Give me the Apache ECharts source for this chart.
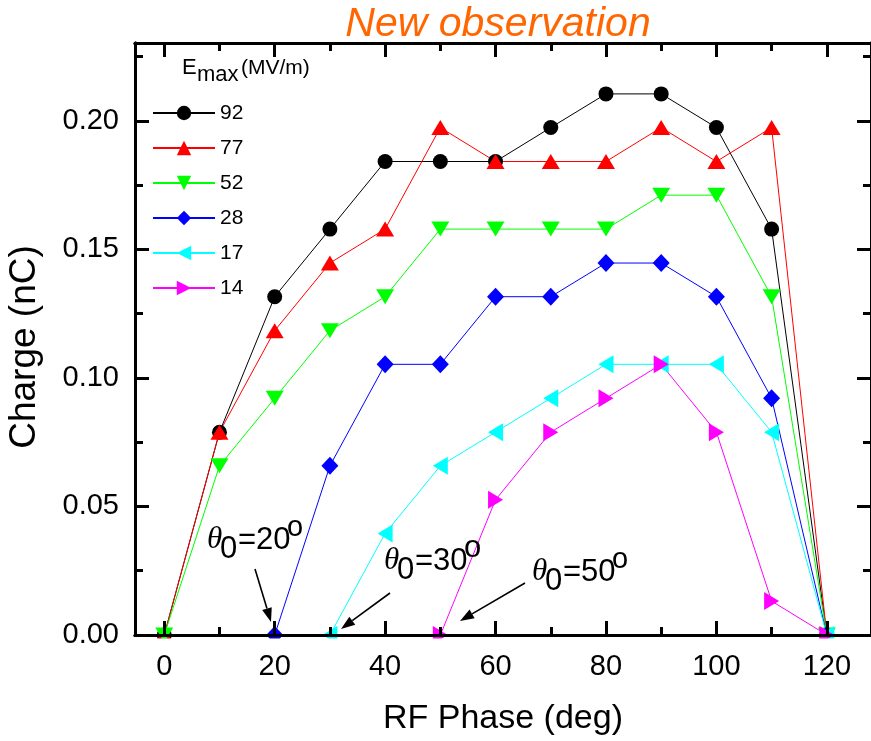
<!DOCTYPE html>
<html><head><meta charset="utf-8">
<script src="https://cdn.jsdelivr.net/npm/echarts@6/dist/echarts.min.js"></script>
<style>html,body{margin:0;padding:0;background:#fff}#c{width:871px;height:741px}</style>
</head><body><div id="c"></div>
<script>
// ---------- data ----------
const phases = [0,10,20,30,40,50,60,70,80,90,100,110,120];
const e92 = [0,0.0789,0.1316,0.1579,0.1842,0.1842,0.1842,0.1974,0.2105,0.2105,0.1974,0.1579,0];
const e77 = [0,0.0789,0.1184,0.1447,0.1579,0.1974,0.1842,0.1842,0.1842,0.1974,0.1842,0.1974,0];
const e52 = [0,0.0658,0.0921,0.1184,0.1316,0.1579,0.1579,0.1579,0.1579,0.1711,0.1711,0.1316,0];
const e28 = [null,null,0,0.0658,0.1053,0.1053,0.1316,0.1316,0.1447,0.1447,0.1316,0.0921,0];
const e17 = [null,null,null,0,0.0395,0.0658,0.0789,0.0921,0.1053,0.1053,0.1053,0.0789,0];
const e14 = [null,null,null,null,null,0,0.0526,0.0789,0.0921,0.1053,0.0789,0.0132,0];
const seriesNames = ['92','77','52','28','17','14'];
const xMajorTicks = [0,20,40,60,80,100,120];
const xMinorTicks = [10,30,50,70,90,110];
const yMajorTicks = [0,0.05,0.10,0.15,0.20];
const yMinorTicks = [0.025,0.075,0.125,0.175,0.225];
const titleText = 'New observation';
const xName = 'RF Phase (deg)';
const yName = 'Charge (nC)';
const legendTitle = ['E','max','(MV/m)'];
const annotations = [['20'],['30'],['50']];

// ---------- styling ----------
const FONT = '"Liberation Sans", Arial, sans-serif';
const SERIF = '"Liberation Serif", "DejaVu Serif", serif';
const allValues = [e92,e77,e52,e28,e17,e14];
const looks = [
  {color:'#000000', symbol:'circle',   size:15,      rotate:0},
  {color:'#ff0000', symbol:'triangle', size:[18,15], rotate:0},
  {color:'#00ff00', symbol:'triangle', size:[18,15], rotate:180},
  {color:'#0000ff', symbol:'diamond',  size:[17,18], rotate:0},
  {color:'#00ffff', symbol:'triangle', size:[18,15], rotate:90},
  {color:'#ff00ff', symbol:'triangle', size:[18,15], rotate:-90}
];
const X_MIN = -5.3, X_MAX = 128, Y_MIN = 0, Y_MAX = 0.2303;

function xAx(pos, ticks, len, labels){
  return {type:'value', min:X_MIN, max:X_MAX, position:pos, z:5,
    axisLine:{show:true, onZero:false, lineStyle:{color:'#000', width:3}},
    axisTick:{show:true, inside:true, length:len, customValues:ticks, lineStyle:{color:'#000', width:3}},
    axisLabel:{show:labels, customValues:ticks, margin:17, fontSize:29, fontFamily:FONT, color:'#000',
      formatter:v=>String(Math.round(v))},
    splitLine:{show:false},
    name: labels ? xName : '', nameLocation:'middle', nameGap:67,
    nameTextStyle:{fontSize:34, fontFamily:FONT, color:'#000'}
  };
}
function yAx(pos, ticks, len, labels){
  return {type:'value', min:Y_MIN, max:Y_MAX, position:pos, z:5,
    axisLine:{show:true, onZero:false, lineStyle:{color:'#000', width:3}},
    axisTick:{show:true, inside:true, length:len, customValues:ticks, lineStyle:{color:'#000', width:3}},
    axisLabel:{show:labels, customValues:ticks, margin:16, fontSize:29, fontFamily:FONT, color:'#000',
      formatter:v=>v.toFixed(2)},
    splitLine:{show:false}
  };
}

const series = seriesNames.map((n,i)=>({
  name:n, type:'line', xAxisIndex:0, yAxisIndex:0,
  data: phases.map((p,j)=>[p, allValues[i][j]]),
  symbol: looks[i].symbol, symbolSize: looks[i].size, symbolRotate: looks[i].rotate,
  showAllSymbol:true, clip:false,
  lineStyle:{color:looks[i].color, width:1},
  itemStyle:{color:looks[i].color},
  emphasis:{disabled:true}, animation:false
}));

// text fragment helper: x = left, b = baseline
function frag(str, x, b, size, family, italic){
  return {type:'text', z:50, x:x, y:b - 0.3465*size,
    style:{text:str, fontSize:size, fontFamily:family||FONT, fontStyle:italic?'italic':'normal',
      fill:'#000', align:'left', verticalAlign:'middle'}};
}
function arrow(x1,y1,x2,y2){
  const dx=x2-x1, dy=y2-y1, L=Math.hypot(dx,dy), ux=dx/L, uy=dy/L;
  const hl=14, hw=5;
  const bx=x2-ux*hl, by=y2-uy*hl;
  return [
    {type:'line', z:50, shape:{x1:x1,y1:y1,x2:bx,y2:by}, style:{stroke:'#000', lineWidth:1.6}},
    {type:'polygon', z:50, shape:{points:[[x2,y2],[bx-uy*hw,by+ux*hw],[bx+uy*hw,by-ux*hw]]}, style:{fill:'#000'}}
  ];
}
function theta(x, b, val, supSize){
  return [
    frag('\u03b8', x, b, 31, SERIF, true),
    frag('0', x+13, b+9, 31),
    frag('='+val, x+31, b, 31),
    frag('o', x+80, b-13, supSize||29)
  ];
}

const graphics = [
  {type:'text', z:50, x:498, y:25, style:{text:titleText, fontSize:41, fontFamily:FONT, fontStyle:'italic',
     fill:'#ff6600', align:'center', verticalAlign:'middle'}},
  {type:'text', z:50, x:24.5, y:347, rotation:Math.PI/2, style:{text:yName, fontSize:37, fontFamily:FONT,
     fill:'#000', align:'center', verticalAlign:'middle'}},
  frag(legendTitle[0], 182, 75.5, 22),
  frag(legendTitle[1], 197, 82.5, 22),
  frag(legendTitle[2], 241, 75.5, 21),
  // hide the lower half of markers sitting on the bottom axis
  {type:'rect', z:40, shape:{x:136, y:638.6, width:735, height:12}, style:{fill:'#fff'}},
  ...theta(207, 551, annotations[0][0]),
  ...theta(384, 572, annotations[1][0], 31),
  ...theta(532, 583, annotations[2][0]),
  ...arrow(255,569,271,622),
  ...arrow(390,593,341,629),
  ...arrow(525,583,460,621)
];

const chart = echarts.init(document.getElementById('c'), null, {renderer:'canvas'});
chart.setOption({
  backgroundColor:'#fff',
  animation:false,
  grid:{left:135, top:43, width:737, height:593.7, containLabel:false},
  xAxis:[xAx('bottom', xMajorTicks, 14, true), xAx('bottom', xMinorTicks, 8, false),
         xAx('top', xMajorTicks, 14, false), xAx('top', xMinorTicks, 8, false)],
  yAxis:[yAx('left', yMajorTicks, 14, true), yAx('left', yMinorTicks, 8, false),
         yAx('right', yMajorTicks, 14, false), yAx('right', yMinorTicks, 8, false)],
  legend:{orient:'vertical', left:147, top:97.5, itemWidth:62, itemHeight:18, itemGap:14,
    selectedMode:false, data:seriesNames,
    textStyle:{fontSize:21, fontFamily:FONT, color:'#000', lineHeight:21}},
  series: series,
  graphic: graphics
});
</script>
</body></html>
